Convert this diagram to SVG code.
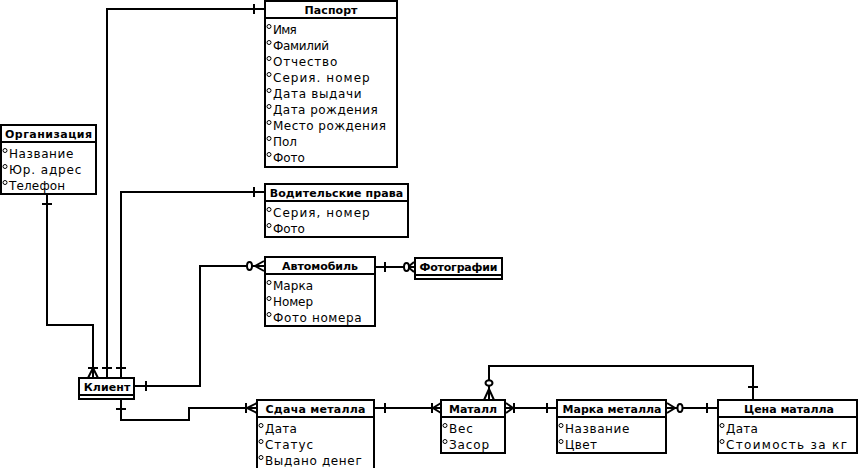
<svg xmlns="http://www.w3.org/2000/svg" width="860" height="468" viewBox="0 0 860 468">
  <style>
    .box { fill: #fff; stroke: #000; stroke-width: 2; }
    .sep { stroke: #000; stroke-width: 2; }
    .t { font-family: "DejaVu Sans", "Liberation Sans", sans-serif; font-size: 11px; font-weight: bold; text-anchor: middle; fill: #000; }
    .a { font-family: "DejaVu Sans", "Liberation Sans", sans-serif; font-size: 12px; fill: #000; }
    .dot { fill: #fff; stroke: #000; stroke-width: 1; }
    .ln { fill: none; stroke: #000; stroke-width: 2; }
    .ring { fill: #fff; stroke: #000; stroke-width: 2; }
  </style>
  <defs>
    <!-- attribute bullet, placed at (x, baseline-8) -->
    <circle id="bul" cy="0.5" r="2" class="dot"/>
  </defs>

  <!-- relationship lines -->
  <g id="connectors">
    <!-- Паспорт — Клиент -->
    <polyline class="ln" points="264,9 107,9 107,378"/>
    <line class="ln" x1="254" y1="4" x2="254" y2="14"/>
    <line class="ln" x1="102" y1="368" x2="112" y2="368"/>
    <!-- Водительские права — Клиент -->
    <polyline class="ln" points="264,192 121,192 121,378"/>
    <line class="ln" x1="254" y1="187" x2="254" y2="197"/>
    <line class="ln" x1="116" y1="368" x2="126" y2="368"/>
    <!-- Организация — Клиент -->
    <polyline class="ln" points="47,195 47,325 93,325 93,378"/>
    <line class="ln" x1="42" y1="204" x2="52" y2="204"/>
    <line class="ln" x1="88" y1="368" x2="98" y2="368"/>
    <polyline class="ln" points="88,378 93,368 98,378"/>
    <!-- Клиент — Автомобиль -->
    <polyline class="ln" points="135,386 200,386 200,266 264,266"/>
    <line class="ln" x1="146" y1="381" x2="146" y2="391"/>
    <polyline class="ln" points="264,261 255,266 264,271"/>
    <ellipse class="ring" cx="249.5" cy="266" rx="2.5" ry="4"/>
    <!-- Автомобиль — Фотографии -->
    <line class="ln" x1="375" y1="267" x2="414" y2="267"/>
    <line class="ln" x1="385" y1="262" x2="385" y2="272"/>
    <polyline class="ln" points="414,262 408,267 414,272"/>
    <ellipse class="ring" cx="406.5" cy="267" rx="2.5" ry="4"/>
    <!-- Клиент — Сдача металла -->
    <polyline class="ln" points="121,399 121,420 189,420 189,408 257,408"/>
    <line class="ln" x1="116" y1="409" x2="126" y2="409"/>
    <line class="ln" x1="246" y1="403" x2="246" y2="413"/>
    <polyline class="ln" points="257,403 247,408 257,413"/>
    <!-- Сдача металла — Маталл -->
    <line class="ln" x1="375" y1="408" x2="441" y2="408"/>
    <line class="ln" x1="385" y1="403" x2="385" y2="413"/>
    <line class="ln" x1="432" y1="403" x2="432" y2="413"/>
    <polyline class="ln" points="441,403 433,408 441,413"/>
    <!-- Маталл — Марка металла -->
    <line class="ln" x1="505" y1="408" x2="557" y2="408"/>
    <polyline class="ln" points="506,403 513,408 506,413"/>
    <line class="ln" x1="514" y1="403" x2="514" y2="413"/>
    <line class="ln" x1="547" y1="403" x2="547" y2="413"/>
    <!-- Марка металла — Цена маталла -->
    <line class="ln" x1="666" y1="408" x2="718" y2="408"/>
    <polyline class="ln" points="667,403 675,408 667,413"/>
    <ellipse class="ring" cx="680" cy="408" rx="2.5" ry="4"/>
    <line class="ln" x1="707" y1="403" x2="707" y2="413"/>
    <!-- Маталл — Цена маталла -->
    <polyline class="ln" points="489,400 489,366 753,366 753,400"/>
    <polyline class="ln" points="484,400 489,389 494,400"/>
    <ellipse class="ring" cx="489" cy="383" rx="3.5" ry="2.7"/>
    <line class="ln" x1="748" y1="387" x2="758" y2="387"/>
  </g>

  <g id="passport">
    <rect class="box" x="265" y="1" width="132" height="166"/>
    <line class="sep" x1="265" y1="18" x2="397" y2="18"/>
    <text class="t" x="331" y="14" textLength="53" lengthAdjust="spacing">Паспорт</text>
    <use href="#bul" x="269" y="26"/><text class="a" x="273" y="34" textLength="23.8" lengthAdjust="spacing">Имя</text>
    <use href="#bul" x="269" y="42"/><text class="a" x="273" y="50" textLength="56" lengthAdjust="spacing">Фамилий</text>
    <use href="#bul" x="269" y="58"/><text class="a" x="273" y="66" textLength="64.3" lengthAdjust="spacing">Отчество</text>
    <use href="#bul" x="269" y="74"/><text class="a" x="273" y="82" textLength="96.7" lengthAdjust="spacing">Серия. номер</text>
    <use href="#bul" x="269" y="90"/><text class="a" x="273" y="98" textLength="88.6" lengthAdjust="spacing">Дата выдачи</text>
    <use href="#bul" x="269" y="106"/><text class="a" x="273" y="114" textLength="104.8" lengthAdjust="spacing">Дата рождения</text>
    <use href="#bul" x="269" y="122"/><text class="a" x="273" y="130" textLength="112.9" lengthAdjust="spacing">Место рождения</text>
    <use href="#bul" x="269" y="138"/><text class="a" x="273" y="146" textLength="23.8" lengthAdjust="spacing">Пол</text>
    <use href="#bul" x="269" y="154"/><text class="a" x="273" y="162" textLength="31.9" lengthAdjust="spacing">Фото</text>
  </g>

  <g id="organization">
    <rect class="box" x="1" y="125" width="95" height="69"/>
    <line class="sep" x1="1" y1="142" x2="96" y2="142"/>
    <text class="t" x="48.5" y="138" textLength="87" lengthAdjust="spacing">Организация</text>
    <use href="#bul" x="5" y="150"/><text class="a" x="9" y="158" textLength="64.3" lengthAdjust="spacing">Название</text>
    <use href="#bul" x="5" y="166"/><text class="a" x="9" y="174" textLength="72.4" lengthAdjust="spacing">Юр. адрес</text>
    <use href="#bul" x="5" y="182"/><text class="a" x="9" y="190" textLength="56.2" lengthAdjust="spacing">Телефон</text>
  </g>

  <g id="license">
    <rect class="box" x="265" y="184" width="143" height="53"/>
    <line class="sep" x1="265" y1="201" x2="408" y2="201"/>
    <text class="t" x="336.5" y="197" textLength="133.6" lengthAdjust="spacing">Водительские права</text>
    <use href="#bul" x="269" y="209"/><text class="a" x="273" y="217" textLength="96.7" lengthAdjust="spacing">Серия, номер</text>
    <use href="#bul" x="269" y="225"/><text class="a" x="273" y="233" textLength="31.9" lengthAdjust="spacing">Фото</text>
  </g>

  <g id="car">
    <rect class="box" x="265" y="257" width="110" height="69"/>
    <line class="sep" x1="265" y1="274" x2="375" y2="274"/>
    <text class="t" x="320" y="270" textLength="76" lengthAdjust="spacing">Автомобиль</text>
    <use href="#bul" x="269" y="282"/><text class="a" x="273" y="290" textLength="40" lengthAdjust="spacing">Марка</text>
    <use href="#bul" x="269" y="298"/><text class="a" x="273" y="306" textLength="40" lengthAdjust="spacing">Номер</text>
    <use href="#bul" x="269" y="314"/><text class="a" x="273" y="322" textLength="88.6" lengthAdjust="spacing">Фото номера</text>
  </g>

  <g id="photos">
    <rect class="box" x="415" y="258" width="87" height="21"/>
    <line class="sep" x1="415" y1="275" x2="502" y2="275"/>
    <text class="t" x="458.5" y="271" textLength="78" lengthAdjust="spacing">Фотографии</text>
  </g>

  <g id="client">
    <rect class="box" x="79" y="378" width="55" height="21"/>
    <line class="sep" x1="79" y1="395" x2="134" y2="395"/>
    <text class="t" x="107" y="391" textLength="46.7" lengthAdjust="spacing">Клиент</text>
  </g>

  <g id="handover">
    <rect class="box" x="257" y="400" width="117" height="72"/>
    <line class="sep" x1="257" y1="417" x2="374" y2="417"/>
    <text class="t" x="315.5" y="413" textLength="100" lengthAdjust="spacing">Сдача металла</text>
    <use href="#bul" x="261" y="425"/><text class="a" x="265" y="433" textLength="31.9" lengthAdjust="spacing">Дата</text>
    <use href="#bul" x="261" y="441"/><text class="a" x="265" y="449" textLength="48.1" lengthAdjust="spacing">Статус</text>
    <use href="#bul" x="261" y="457"/><text class="a" x="265" y="465" textLength="96.7" lengthAdjust="spacing">Выдано денег</text>
  </g>

  <g id="metal">
    <rect class="box" x="441" y="400" width="64" height="53"/>
    <line class="sep" x1="441" y1="417" x2="505" y2="417"/>
    <text class="t" x="473" y="413" textLength="48" lengthAdjust="spacing">Маталл</text>
    <use href="#bul" x="445" y="425"/><text class="a" x="449" y="433" textLength="23.8" lengthAdjust="spacing">Вес</text>
    <use href="#bul" x="445" y="441"/><text class="a" x="449" y="449" textLength="40" lengthAdjust="spacing">Засор</text>
  </g>

  <g id="metal-grade">
    <rect class="box" x="557" y="400" width="109" height="53"/>
    <line class="sep" x1="557" y1="417" x2="666" y2="417"/>
    <text class="t" x="612" y="413" textLength="99" lengthAdjust="spacing">Марка металла</text>
    <use href="#bul" x="561" y="425"/><text class="a" x="565" y="433" textLength="64.3" lengthAdjust="spacing">Название</text>
    <use href="#bul" x="561" y="441"/><text class="a" x="565" y="449" textLength="31.9" lengthAdjust="spacing">Цвет</text>
  </g>

  <g id="metal-price">
    <rect class="box" x="718" y="400" width="139" height="53"/>
    <line class="sep" x1="718" y1="417" x2="857" y2="417"/>
    <text class="t" x="789" y="413" textLength="90" lengthAdjust="spacing">Цена маталла</text>
    <use href="#bul" x="722" y="425"/><text class="a" x="726" y="433" textLength="31.9" lengthAdjust="spacing">Дата</text>
    <use href="#bul" x="722" y="441"/><text class="a" x="726" y="449" textLength="121" lengthAdjust="spacing">Стоимость за кг</text>
  </g>
</svg>
